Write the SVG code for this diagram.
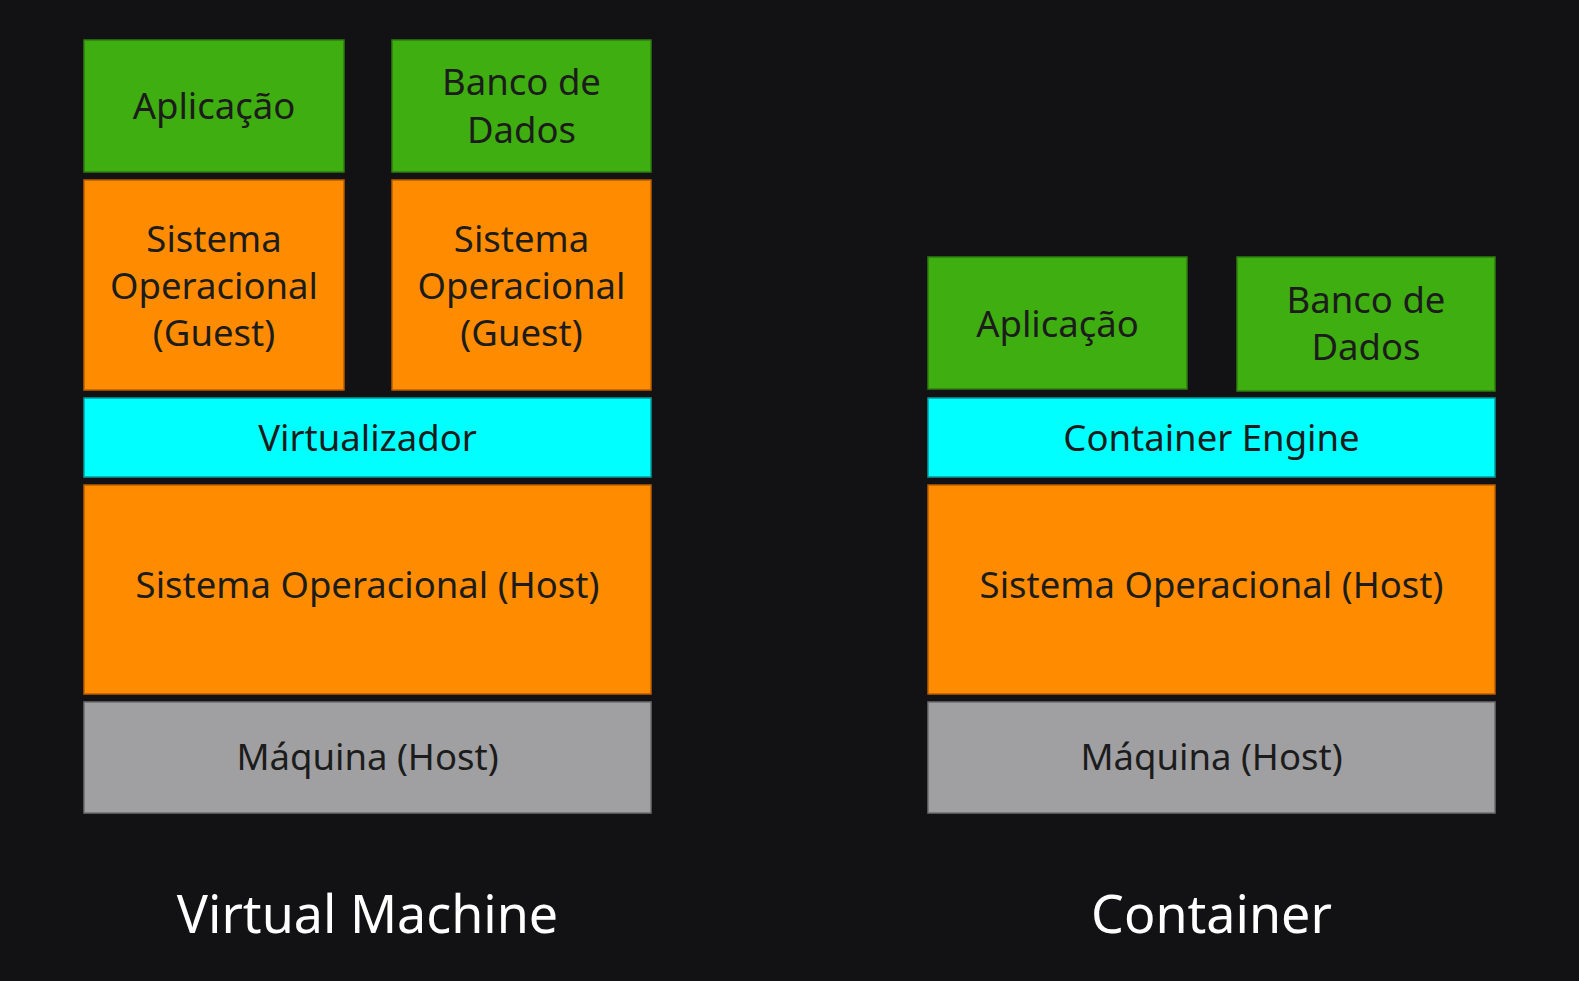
<svg xmlns="http://www.w3.org/2000/svg" width="1579" height="981" viewBox="0 0 1579 981">
<style>
  .bg { fill: #121214; }
  .green { fill: #3fae11; stroke: #2e7d10; stroke-width: 1.5; }
  .orange { fill: #ff8c00; stroke: #b85e00; stroke-width: 1.5; }
  .cyan { fill: #00ffff; stroke: #0a9a9a; stroke-width: 1.5; }
  .grey { fill: #a0a0a2; stroke: #6e6e70; stroke-width: 1.5; }
  .lbl { font-family: "Noto Sans", "Open Sans", sans-serif; font-size: 36.5px; fill: #1c1c1c; text-anchor: middle; }
  .title { font-family: "Noto Sans", "Open Sans", sans-serif; font-size: 52px; fill: #ffffff; text-anchor: middle; }
</style>
<rect class="bg" x="0" y="0" width="1579" height="981"/>

<g id="vm">
  <g id="vm-app">
    <rect class="green" x="84" y="40" width="260" height="132"/>
    <text class="lbl" x="214" y="119">Aplicação</text>
  </g>
  <g id="vm-db">
    <rect class="green" x="392" y="40" width="259" height="132"/>
    <text class="lbl" x="521.5" y="95">Banco de</text>
    <text class="lbl" x="521.5" y="143">Dados</text>
  </g>
  <g id="vm-guest1">
    <rect class="orange" x="84" y="180" width="260" height="210"/>
    <text class="lbl" x="214" y="252">Sistema</text>
    <text class="lbl" x="214" y="299">Operacional</text>
    <text class="lbl" x="214" y="346">(Guest)</text>
  </g>
  <g id="vm-guest2">
    <rect class="orange" x="392" y="180" width="259" height="210"/>
    <text class="lbl" x="521.5" y="252">Sistema</text>
    <text class="lbl" x="521.5" y="299">Operacional</text>
    <text class="lbl" x="521.5" y="346">(Guest)</text>
  </g>
  <g id="vm-hypervisor">
    <rect class="cyan" x="84" y="398" width="567" height="79"/>
    <text class="lbl" x="367.5" y="451">Virtualizador</text>
  </g>
  <g id="vm-hostos">
    <rect class="orange" x="84" y="485" width="567" height="209"/>
    <text class="lbl" x="367.5" y="598">Sistema Operacional (Host)</text>
  </g>
  <g id="vm-machine">
    <rect class="grey" x="84" y="702" width="567" height="111"/>
    <text class="lbl" x="367.5" y="770">Máquina (Host)</text>
  </g>
  <text class="title" x="367.5" y="933">Virtual Machine</text>
</g>

<g id="ct">
  <g id="ct-app">
    <rect class="green" x="928" y="257" width="259" height="132"/>
    <text class="lbl" x="1057.5" y="337">Aplicação</text>
  </g>
  <g id="ct-db">
    <rect class="green" x="1237" y="257" width="258" height="134"/>
    <text class="lbl" x="1366" y="313">Banco de</text>
    <text class="lbl" x="1366" y="360">Dados</text>
  </g>
  <g id="ct-engine">
    <rect class="cyan" x="928" y="398" width="567" height="79"/>
    <text class="lbl" x="1211.5" y="451">Container Engine</text>
  </g>
  <g id="ct-hostos">
    <rect class="orange" x="928" y="485" width="567" height="209"/>
    <text class="lbl" x="1211.5" y="598">Sistema Operacional (Host)</text>
  </g>
  <g id="ct-machine">
    <rect class="grey" x="928" y="702" width="567" height="111"/>
    <text class="lbl" x="1211.5" y="770">Máquina (Host)</text>
  </g>
  <text class="title" x="1211.5" y="933">Container</text>
</g>

<g id="connectors"></g>
</svg>
